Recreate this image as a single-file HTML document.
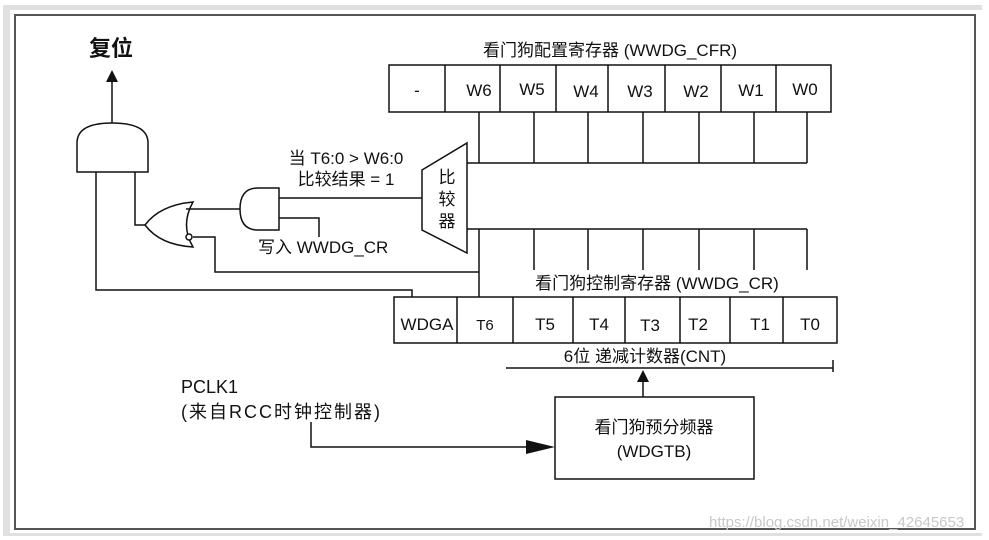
<!DOCTYPE html>
<html><head><meta charset="utf-8"><style>
html,body{margin:0;padding:0;background:#fff;}
svg{display:block;}
text{font-family:"Liberation Sans","Noto Sans CJK SC",sans-serif;fill:#111;}
</style></head><body>
<svg width="989" height="540" viewBox="0 0 989 540" xmlns="http://www.w3.org/2000/svg">
<rect x="0" y="0" width="989" height="540" fill="#fff"/>
<rect x="3" y="5" width="979" height="531" fill="#e0e0e0"/>
<rect x="10" y="10" width="972" height="523" fill="#fff"/>
<rect x="15" y="15" width="960" height="514" fill="none" stroke="#555" stroke-width="2"/>
<g stroke="#111" stroke-width="1.5" fill="none">
<rect x="389" y="65" width="442" height="47"/>
<path d="M445 65V112M500 65V112M556 65V112M608 65V112M665 65V112M721 65V112M776 65V112"/>
<path d="M479 112V163M534 112V163M588 112V163M643 112V163M699 112V163M754 112V163M807 112V163M467 163H807"/>
<path d="M422 170L467 143V253L422 230Z"/>
<path d="M467 229H807M534 229V270M588 229V270M643 229V270M699 229V270M754 229V270M807 229V270M479 229V297"/>
<path d="M479 272H215V237H193"/>
<rect x="394" y="297" width="443" height="46"/>
<path d="M457 297V343M513 297V343M573 297V343M625 297V343M680 297V343M730 297V343M783 297V343"/>
<path d="M412 297V290H96V172"/>
<path d="M77 172V143Q77 123 112 123Q148 123 148 143V172Z"/>
<path d="M112 123V80"/>
<path d="M135 172V225H145"/>
<path d="M145 225Q160 205 193 202Q180 225 193 247Q160 245 145 225Z"/>
<circle cx="189" cy="237" r="3" fill="#fff"/>
<path d="M186 209H240"/>
<path d="M279 188H258Q240 188 240 209Q240 230 258 230H279Z"/>
<path d="M279 198H422M279 218H319V237"/>
<path d="M506 368H833M833 360V372"/>
<path d="M643 397V382"/>
<rect x="555" y="397" width="199" height="82"/>
<path d="M311 422V447H528"/>
</g>
<polygon points="112,70 106,82 118,82" fill="#111"/>
<polygon points="643,370 637,382 649,382" fill="#111"/>
<polygon points="555,447 526,440 526,454" fill="#111"/>
<text x="89" y="56" font-size="22" font-family="'Noto Serif CJK SC',serif" font-weight="bold">复位</text>
<text x="610" y="56" font-size="17" text-anchor="middle">看门狗配置寄存器 (WWDG_CFR)</text>
<g font-size="17" text-anchor="middle">
<text x="417" y="96">-</text><text x="479" y="96">W6</text><text x="532" y="95">W5</text><text x="586" y="97">W4</text><text x="640" y="97">W3</text><text x="696" y="97">W2</text><text x="751" y="96">W1</text><text x="805" y="95">W0</text>
<text x="427" y="330">WDGA</text><text x="485" y="330" font-size="15">T6</text><text x="545" y="330">T5</text><text x="599" y="330">T4</text><text x="650" y="331">T3</text><text x="698" y="330">T2</text><text x="760" y="330">T1</text><text x="810" y="330">T0</text>
<text x="657" y="289">看门狗控制寄存器 (WWDG_CR)</text>
<text x="346" y="164">当 T6:0 &gt; W6:0</text>
<text x="346" y="185">比较结果 = 1</text>
<text x="447" y="183">比</text><text x="447" y="205">较</text><text x="447" y="227">器</text>
<text x="645" y="362">6位 递减计数器(CNT)</text>
<text x="654" y="433">看门狗预分频器</text>
<text x="654" y="457">(WDGTB)</text>
</g>
<text x="258" y="253" font-size="17">写入 WWDG_CR</text>
<text x="181" y="393" font-size="18">PCLK1</text>
<text x="181" y="418" font-size="18" letter-spacing="2">(来自RCC时钟控制器)</text>
<text x="709" y="527" font-size="15" style="fill:#c8c8c8">https://blog.csdn.net/weixin_42645653</text>
</svg>
</body></html>
